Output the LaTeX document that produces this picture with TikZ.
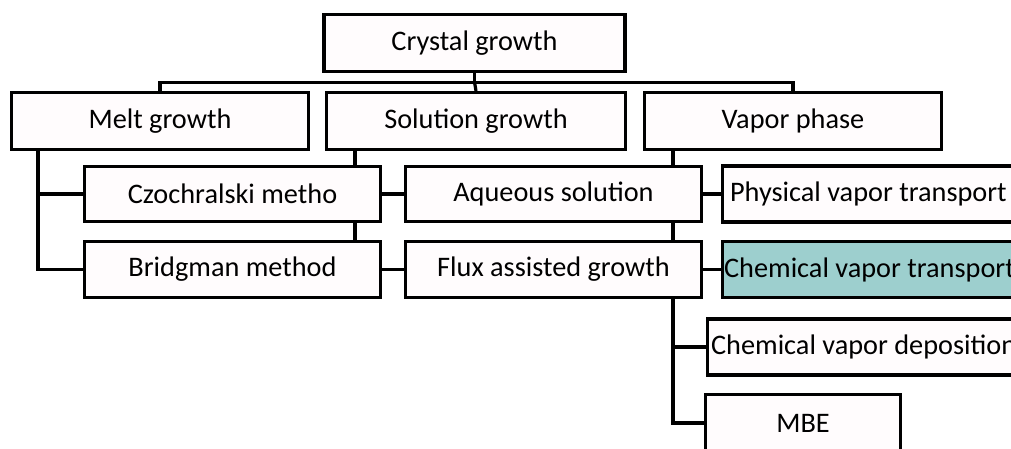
\documentclass[tikz,border=0pt]{standalone}
\usepackage{fontspec}
\setmainfont{Carlito}
\usetikzlibrary{calc,backgrounds}
\definecolor{boxfill}{HTML}{FFFCFD}
\definecolor{tealfill}{HTML}{9DCFCE}
\tikzset{
  box/.style={draw=black, line width=3.2pt, fill=boxfill, inner sep=0pt,
    font=\fontsize{28.3}{34}\selectfont, text=black},
  rbox/.style={box, anchor=west, minimum height=56pt, inner xsep=#1},
  conn/.style={draw=black, line width=3.2pt}
}
\newcommand{\lbox}[1]{\makebox[340pt][l]{#1}}
\begin{document}
\begin{tikzpicture}[x=1pt,y=1pt]
\useasboundingbox (0,0) rectangle (1011,-448);
\clip (0,0) rectangle (1011,-448);
% level 1
\node[box, minimum width=301pt, minimum height=57pt] (cg) at (474.5,-43) {Crystal growth};
% level 2
\node[box, minimum width=297pt, minimum height=57pt] (melt) at (160,-121) {Melt growth};
\node[box, minimum width=299pt, minimum height=57pt] (sol) at (476,-121) {Solution growth};
\node[box, minimum width=297pt, minimum height=57pt] (vap) at (793,-121) {Vapor phase};
% row 3
\node[box, minimum width=296pt, minimum height=55pt] (czo) at (232.5,-194) {Czochralski metho};
\node[box, minimum width=296pt, minimum height=55pt] (aq) at (553.5,-194) {Aqueous solution};
\node[rbox=8pt] (pvt) at (720.5,-194) {\lbox{Physical vapor transport}};
% row 4
\node[box, minimum width=296pt, minimum height=56pt] (bri) at (232.5,-269.5) {Bridgman method};
\node[box, minimum width=296pt, minimum height=56pt] (flux) at (553.5,-269.5) {Flux assisted growth};
\node[rbox=2pt, fill=tealfill] (cvt) at (720.5,-269.5) {\lbox{Chemical vapor transport}};
% rows 5,6
\node[rbox=4pt] (cvd) at (705.5,-347) {\lbox{Chemical vapor deposition}};
\node[box, minimum width=195pt, minimum height=57pt] (mbe) at (803,-423) {MBE};
\begin{scope}[on background layer]
  \coordinate (bus) at ($(cg.south)+(0,-9)$);
  \draw[conn] (cg.south) -- (bus);
  \draw[conn] (melt.north) |- (bus) -| (vap.north);
  \draw[conn] (bus) -- (sol.north);
  % melt spine
  \coordinate (ms) at ($(melt.south west)+(28,0)$);
  \draw[conn] (ms) |- (bri.west);
  \draw[conn] (czo.west) -| (ms);
  % solution spine
  \coordinate (ss) at ($(sol.south west)+(30,0)$);
  \draw[conn] (ss) |- (flux.west);
  \draw[conn] (aq.west) -| (ss);
  % vapor spine
  \coordinate (vs) at ($(vap.south west)+(30,0)$);
  \draw[conn] (vs) |- (mbe.west);
  \draw[conn] (pvt.west) -| (vs);
  \draw[conn] (cvt.west) -| (vs);
  \draw[conn] (cvd.west) -| (vs);
\end{scope}
\end{tikzpicture}
\end{document}
